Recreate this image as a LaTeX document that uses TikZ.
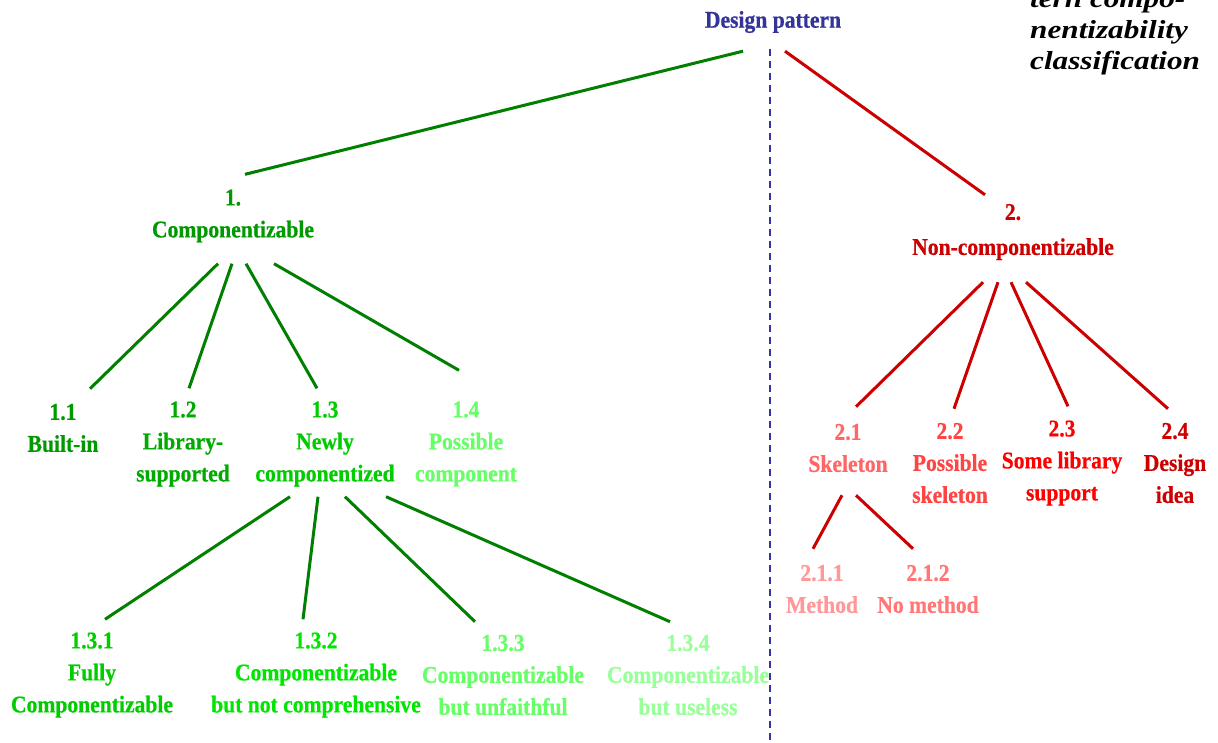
\documentclass[tikz,border=0pt]{standalone}
\usepackage{fontspec}
\usepackage{xcolor}
\usepackage{tikz}
\usetikzlibrary{positioning,calc}
\newfontfamily\dpfont{Liberation Serif}[FakeStretch=0.9, BoldFeatures={FakeBold=0.6}]
\newfontfamily\ttlfont{Liberation Serif}[FakeStretch=1.2]

\definecolor{navy}{HTML}{333399}
\definecolor{lgreen}{HTML}{007F00}
\definecolor{lred}{HTML}{CC0000}
\definecolor{gA}{HTML}{009900}
\definecolor{gB}{HTML}{00AA00}
\definecolor{gC}{HTML}{00CC00}
\definecolor{gD}{HTML}{00E600}
\definecolor{gE}{HTML}{66FF66}
\definecolor{gF}{HTML}{99FF99}
\definecolor{rA}{HTML}{FF6666}
\definecolor{rB}{HTML}{FF4444}
\definecolor{rC}{HTML}{FF0000}
\definecolor{rD}{HTML}{FF9999}
\definecolor{rE}{HTML}{FF7777}

\tikzset{
    cls/.style={font=\dpfont\bfseries\fontsize{24}{32}\selectfont, align=center, inner sep=0pt},
    gline/.style={draw=lgreen, line width=3pt},
    rline/.style={draw=lred, line width=3pt},
    divider/.style={draw=navy, line width=1.5pt, dash pattern=on 7pt off 5pt}
}

\begin{document}
\begin{tikzpicture}[x=1pt, y=-1pt]
    \useasboundingbox (0,0) rectangle (1218,742);

    % Title
    \node[anchor=south west, inner sep=0pt, align=left,
          font=\ttlfont\bfseries\itshape\fontsize{26}{31}\selectfont] (ttl) at (1030,75)
          {tern compo-\\nentizability\\classification};

    % Root
    \node[cls, text=navy] (top) at (773,22) {Design pattern};
    \draw[divider] ([shift={(-3,16)}]top.south) -- (770,745);

    % Level 1
    \node[cls, text=gA] (c1) at (233,216) {1.\\Componentizable};
    \node[cls, text=lred] (c2) at (1013,232) {2.\\[3pt]Non-componentizable};
    \draw[gline] ([shift={(-30,18)}]top.south) -- ([shift={(12,-15)}]c1.north);
    \draw[rline] ([shift={(12,18)}]top.south) -- ([shift={(-28,-9)}]c2.north);

    % Componentizable
    \node[cls, text=gA] (n11) at (63,428) {1.1\\Built-in};
    \node[cls, text=gB] (n12) at (183,444) {1.2\\Library-\\supported};
    \node[cls, text=gC] (n13) at (325,444) {1.3\\Newly\\componentized};
    \node[cls, text=gE] (n14) at (466,444) {1.4\\Possible\\component};
    \foreach \child/\sx/\ex/\ey in {n11/-15/27/-15, n12/-1/6/-13, n13/13/-8/-13, n14/41/-7/-31} {
        \draw[gline] ([shift={(\sx,21)}]c1.south) -- ([shift={(\ex,\ey)}]\child.north);
    }

    % Newly componentized
    \node[cls, text=gC] (n131) at (92,675) {1.3.1\\Fully\\Componentizable};
    \node[cls, text=gD] (n132) at (316,675) {1.3.2\\Componentizable\\but not comprehensive};
    \node[cls, text=gE] (n133) at (503,675) {1.3.3\\Componentizable\\but unfaithful};
    \node[cls, text=gF] (n134) at (688,675) {1.3.4\\Componentizable\\but useless};
    \foreach \child/\sx/\ex in {n131/-35/13, n132/-7/-13, n133/20/-28, n134/61/-18} {
        \draw[gline] ([shift={(\sx,10)}]n13.south) -- ([shift={(\ex,-13)}]\child.north);
    }

    % Non-componentizable
    \node[cls, text=rA] (n21) at (848,448) {2.1\\Skeleton};
    \node[cls, text=rB] (n22) at (950,463) {2.2\\Possible\\skeleton};
    \node[cls, text=rC] (n23) at (1062,463) {2.3\\Some library\\support};
    \node[cls, text=lred] (n24) at (1175,463) {2.4\\Design\\idea};
    \foreach \child/\sx/\ex/\ey in {n21/-30/8/-17, n22/-15/4/-14, n23/-2/6/-14, n24/13/-7/-14} {
        \draw[rline] ([shift={(\sx,22)}]c2.south) -- ([shift={(\ex,\ey)}]\child.north);
    }

    % Skeleton
    \node[cls, text=rD] (n211) at (822,589) {2.1.1\\Method};
    \node[cls, text=rE] (n212) at (928,589) {2.1.2\\No method};
    \draw[rline] ([shift={(-6,23)}]n21.south) -- ([shift={(-9,-16)}]n211.north);
    \draw[rline] ([shift={(8,23)}]n21.south) -- ([shift={(-15,-16)}]n212.north);

\end{tikzpicture}
\end{document}
